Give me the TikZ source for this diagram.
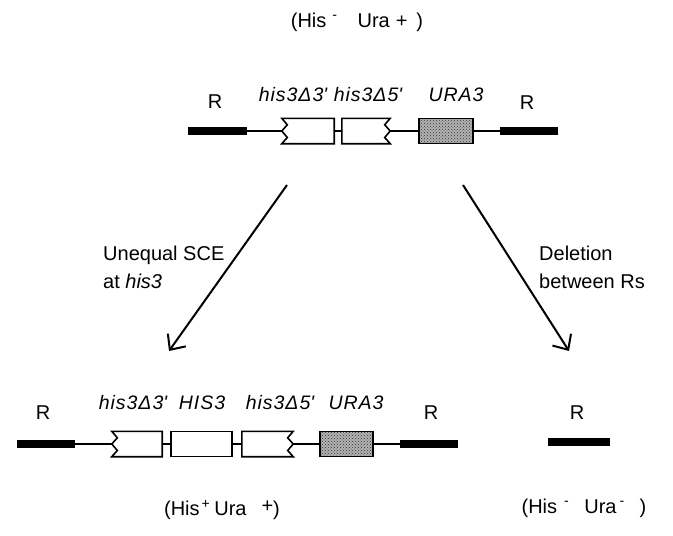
\documentclass[tikz,border=0pt]{standalone}
\usepackage{fontspec}
\setmainfont{Liberation Sans}
\usetikzlibrary{
  arrows.meta,
  positioning,
  patterns
}
\tikzset{
    lbl/.style={font=\fontsize{20}{24}\selectfont, inner sep=0pt},
    gene/.style={font=\fontsize{19.5}{23}\selectfont\itshape\addfontfeatures{LetterSpace=5}, inner sep=0pt},
    repeatbar/.style={rectangle, fill=black, draw=none, inner sep=0pt, minimum height=8.5pt},
    genebox/.style={rectangle, draw=black, line width=1.6pt, inner sep=0pt, minimum height=25pt},
    cutbox/.style={rectangle, draw=none, inner sep=0pt, minimum height=25pt},
    uragene/.style={genebox, preaction={fill=gray!60}, pattern=crosshatch dots, pattern color=black!80},
    dnaline/.style={line width=1.6pt},
    steparrow/.style={line width=2pt, -{Straight Barb[length=12pt, width=22pt, line width=2pt]}}
}
\newcommand{\cutleft}[1]{%
    \draw[dnaline, line join=miter] (#1.north east) -- (#1.north west) -- ++(5.5,6.5) -- (#1.west)
        -- ++(5.5,6.5) -- (#1.south west) -- (#1.south east) -- cycle;}
\newcommand{\cutright}[1]{%
    \draw[dnaline, line join=miter] (#1.north west) -- (#1.north east) -- ++(-5.5,6.5) -- (#1.east)
        -- ++(-5.5,6.5) -- (#1.south east) -- (#1.south west) -- cycle;}

\begin{document}
\begin{tikzpicture}[x=1pt, y=-1pt]
    \useasboundingbox (0,0) rectangle (673,536);

    \node[lbl] (topPheno) at (357,22) {(His\hspace{6pt}\textsuperscript{-}\hspace{20pt}Ura\hspace{6pt}+\hspace{9pt})};

    % parent construct
    \node[lbl] (rTopL) at (215,102) {R};
    \node[gene] (d3TopLbl) at (293,95) {his3Δ3\textquotesingle};
    \node[gene] (d5TopLbl) at (368,95) {his3Δ5\textquotesingle};
    \node[gene] (uraTopLbl) at (456,95) {URA3};
    \node[lbl] (rTopR) at (527,103) {R};

    \node[repeatbar, minimum width=59pt] (barTopL) at (217.5,131) {};
    \node[cutbox, minimum width=52pt] (d3Top) at (308,131) {};
    \node[cutbox, minimum width=48pt] (d5Top) at (366,131) {};
    \node[uragene, minimum width=54pt] (uraTop) at (446,131) {};
    \node[repeatbar, minimum width=58pt] (barTopR) at (529,131) {};
    \cutleft{d3Top}
    \cutright{d5Top}
    \draw[dnaline] (barTopL.east) -- (d3Top.west);
    \draw[dnaline] (d3Top.east) -- (d5Top.west);
    \draw[dnaline] (d5Top.east) -- (uraTop.west);
    \draw[dnaline] (uraTop.east) -- (barTopR.west);

    % the two outcomes
    \coordinate (sceStart) at (287,185);
    \coordinate (sceEnd) at (169,351);
    \coordinate (delStart) at (463,185);
    \coordinate (delEnd) at (569,351);
    \draw[steparrow] (sceStart) -- (sceEnd);
    \draw[steparrow] (delStart) -- (delEnd);
    \node[lbl, font=\fontsize{20}{28}\selectfont, align=left, anchor=west] (sceLbl) at (103,267)
        {Unequal SCE\\at \textit{his3}};
    \node[lbl, font=\fontsize{20}{28}\selectfont, align=left, anchor=west] (delLbl) at (539,267)
        {Deletion\\between Rs};

    % SCE product
    \node[lbl] (rBotL) at (43,413) {R};
    \node[gene] (d3BotLbl) at (133,403) {his3Δ3\textquotesingle};
    \node[gene] (hisBotLbl) at (202,403) {HIS3};
    \node[gene] (d5BotLbl) at (280,403) {his3Δ5\textquotesingle};
    \node[gene] (uraBotLbl) at (356,403) {URA3};
    \node[lbl] (rBotM) at (431,413) {R};

    \node[repeatbar, minimum width=58pt] (barBotL) at (46,444) {};
    \node[cutbox, minimum width=50pt] (d3Bot) at (137,444) {};
    \node[genebox, minimum width=61pt] (hisBot) at (201.5,444) {};
    \node[cutbox, minimum width=51pt] (d5Bot) at (267.5,444) {};
    \node[uragene, minimum width=53pt] (uraBot) at (346.5,444) {};
    \node[repeatbar, minimum width=58pt] (barBotM) at (429,444) {};
    \cutleft{d3Bot}
    \cutright{d5Bot}
    \draw[dnaline] (barBotL.east) -- (d3Bot.west);
    \draw[dnaline] (d3Bot.east) -- (hisBot.west);
    \draw[dnaline] (hisBot.east) -- (d5Bot.west);
    \draw[dnaline] (d5Bot.east) -- (uraBot.west);
    \draw[dnaline] (uraBot.east) -- (barBotM.west);

    % deletion product
    \node[lbl] (rBotR) at (577,413) {R};
    \node[repeatbar, minimum width=62pt] (barBotR) at (579,442) {};

    \node[lbl] (scePheno) at (222,510) {(His\hspace{2pt}\textsuperscript{+}\hspace{4pt}Ura\hspace{15pt}\raisebox{3pt}{+})};
    \node[lbl] (delPheno) at (584,508) {(His\hspace{7pt}\textsuperscript{-}\hspace{15pt}Ura\hspace{3pt}\textsuperscript{-}\hspace{15pt})};
\end{tikzpicture}
\end{document}
